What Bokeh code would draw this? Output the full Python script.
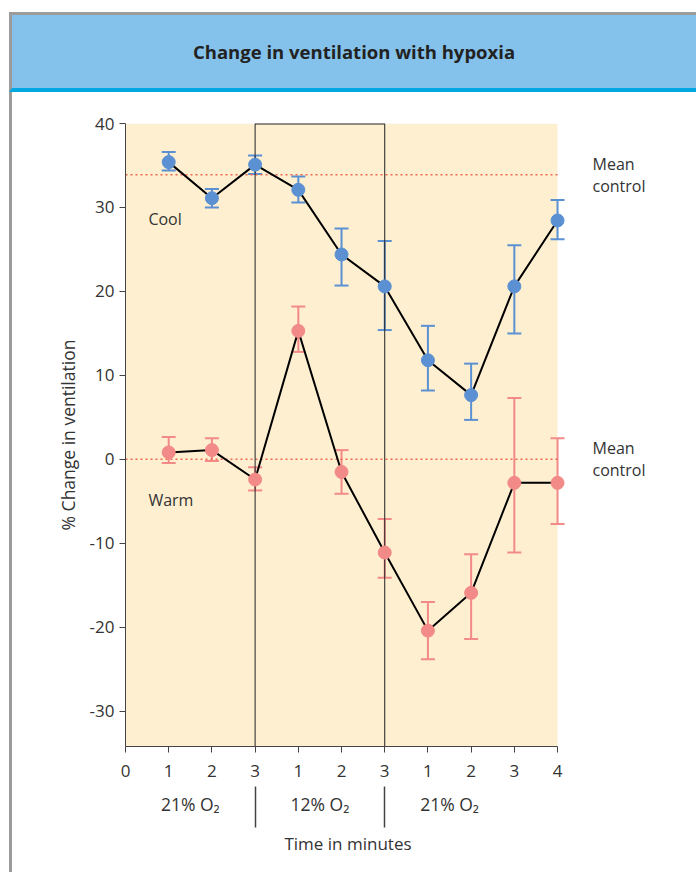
from bokeh.plotting import figure
from bokeh.models import (Div, ColumnDataSource, Whisker, TeeHead, FixedTicker,
                          LinearAxis, Label, Range1d)
from bokeh.layouts import column
from bokeh.embed import file_html
from bokeh.resources import INLINE

# ---- data ----
positions = [1, 2, 3, 4, 5, 6, 7, 8, 9, 10]
x_ticks = [0, 1, 2, 3, 4, 5, 6, 7, 8, 9, 10]
x_tick_labels = ["0", "1", "2", "3", "1", "2", "3", "1", "2", "3", "4"]
y_ticks = [-30, -20, -10, 0, 10, 20, 30, 40]
y_tick_labels = ["-30", "-20", "-10", "0", "10", "20", "30", "40"]

cool_mean = [35.4, 31.1, 35.1, 32.1, 24.4, 20.6, 11.8, 7.65, 20.6, 28.45]
cool_upper = [36.6, 32.2, 36.2, 33.7, 27.5, 26.0, 15.9, 11.4, 25.5, 30.9]
cool_lower = [34.4, 30.0, 34.0, 30.6, 20.7, 15.4, 8.2, 4.7, 15.0, 26.2]

warm_mean = [0.83, 1.1, -2.4, 15.3, -1.5, -11.1, -20.4, -15.9, -2.8, -2.8]
warm_upper = [2.65, 2.5, -0.95, 18.2, 1.1, -7.1, -17.0, -11.3, 7.3, 2.5]
warm_lower = [-0.44, -0.2, -3.7, 12.8, -4.1, -14.1, -23.8, -21.4, -11.1, -7.7]

cool_control = 33.9
warm_control = 0.0
control_label = "Mean\ncontrol"

phase_centers = [1.5, 4.5, 7.5]
phase_labels = ["21% O₂", "12% O₂", "21% O₂"]
phase_bounds = [3, 6]

FONT = "Open Sans"
TXT = "#333333"
BLUE = "#5B91D2"
PINK = "#F28B87"
RED = "#F0674F"
GRAY = "#9B9B9B"
SHADE = "#FEEFD1"

y_min, y_max = -34.2, 40
x_min, x_max = x_ticks[0], x_ticks[-1]
x_view_end = 10.3   # a little room so the last markers are not cut

p = figure(width=680, height=780, output_backend="svg", toolbar_location=None,
           x_range=Range1d(x_min, x_view_end), y_range=Range1d(y_min, y_max),
           min_border_left=113, min_border_right=122, min_border_top=31,
           min_border_bottom=126, x_axis_type=None, margin=(0, 0, 0, 9))
p.background_fill_color = "white"
p.border_fill_color = "white"
p.outline_line_color = None
p.grid.visible = False
p.styles = {"border-left": "3px solid " + GRAY}

# shaded plotting area
p.quad(left=[x_min], right=[x_max], bottom=[y_min], top=[y_max],
       fill_color=SHADE, line_color=None, level="image")

# y axis
ya = p.yaxis[0]
ya.ticker = FixedTicker(ticks=y_ticks)
ya.major_label_overrides = {t: l for t, l in zip(y_ticks, y_tick_labels)}
ya.axis_label = "% Change in ventilation"
ya.axis_label_text_font = FONT
ya.axis_label_text_font_style = "normal"
ya.axis_label_text_font_size = "17.5px"
ya.axis_label_text_color = TXT
ya.major_label_text_font = FONT
ya.major_label_text_font_size = "17px"
ya.major_label_text_color = TXT
ya.major_tick_out = 6
ya.major_tick_in = 0
ya.minor_tick_out = 0
ya.minor_tick_in = 0
ya.axis_line_color = "#444444"
ya.major_tick_line_color = "#444444"
ya.major_label_standoff = 5
ya.axis_label_standoff = 7

# right axis carrying the "Mean control" notes
yr = LinearAxis(ticker=FixedTicker(ticks=[cool_control, warm_control]),
                major_label_overrides={cool_control: control_label,
                                       warm_control: control_label})
yr.axis_line_color = None
yr.major_tick_line_color = None
yr.minor_tick_line_color = None
yr.major_tick_out = 0
yr.major_tick_in = 0
yr.major_label_text_font = FONT
yr.major_label_text_font_size = "16px"
yr.major_label_text_color = TXT
yr.major_label_text_line_height = 1.0
yr.major_label_standoff = 22
p.add_layout(yr, "right")

# x axis (minutes)
xa = LinearAxis(ticker=FixedTicker(ticks=x_ticks), bounds=(x_min, x_max),
                major_label_overrides={t: l for t, l in zip(x_ticks, x_tick_labels)})
xa.major_tick_out = 6
xa.major_tick_in = 0
xa.axis_line_color = "#444444"
xa.major_tick_line_color = "#444444"
xa.major_label_text_font = FONT
xa.major_label_text_font_size = "17px"
xa.major_label_text_color = TXT
xa.major_label_standoff = 12
p.add_layout(xa, "below")

# x axis (phases)
xb = LinearAxis(ticker=FixedTicker(ticks=phase_centers, minor_ticks=phase_bounds),
                bounds=(x_min, x_max),
                major_label_overrides={t: l for t, l in zip(phase_centers, phase_labels)})
xb.axis_line_color = None
xb.major_tick_line_color = None
xb.major_tick_out = 0
xb.major_tick_in = 0
xb.minor_tick_line_color = "#444444"
xb.minor_tick_line_width = 1.5
xb.minor_tick_in = -7
xb.minor_tick_out = 48
xb.major_label_text_font = FONT
xb.major_label_text_font_size = "17.5px"
xb.major_label_text_color = TXT
xb.major_label_standoff = -36
xb.axis_label = "Time in minutes"
xb.axis_label_text_font = FONT
xb.axis_label_text_font_style = "normal"
xb.axis_label_text_font_size = "17px"
xb.axis_label_text_color = TXT
xb.axis_label_standoff = 13
p.add_layout(xb, "below")

# mean control lines
p.segment(x0=[x_min, x_min], x1=[x_max, x_max], y0=[cool_control, warm_control],
          y1=[cool_control, warm_control], line_color=RED, line_width=1.5,
          line_dash="2 3")

# error bars
sources = []
for mean, up, lo, col in [(cool_mean, cool_upper, cool_lower, BLUE),
                          (warm_mean, warm_upper, warm_lower, PINK)]:
    src = ColumnDataSource(dict(x=positions, y=mean, upper=up, lower=lo))
    sources.append((src, col))
    w = Whisker(source=src, base="x", upper="upper", lower="lower",
                line_color=col, line_width=2, level="underlay",
                upper_head=TeeHead(size=14, line_color=col, line_width=2),
                lower_head=TeeHead(size=14, line_color=col, line_width=2))
    p.add_layout(w)

# hypoxia box
p.segment(x0=phase_bounds, x1=phase_bounds, y0=[y_min] * 2, y1=[y_max] * 2,
          line_color="#222222", line_width=1)
p.segment(x0=[phase_bounds[0]], x1=[phase_bounds[1]], y0=[y_max], y1=[y_max],
          line_color="#222222", line_width=2)

for src, col in sources:
    p.line("x", "y", source=src, line_color="black", line_width=2)
    p.scatter("x", "y", source=src, size=13, fill_color=col, line_color=col)

# series labels
p.add_layout(Label(x=0.53, y=28.6, text="Cool", text_font=FONT, text_font_size="16px",
                   text_color=TXT, text_baseline="middle"))
p.add_layout(Label(x=0.53, y=-4.9, text="Warm", text_font=FONT, text_font_size="16px",
                   text_color=TXT, text_baseline="middle"))

title = Div(text=("<div style='box-sizing:border-box;width:687px;height:80px;line-height:73px;"
                  "background:#85C2EB;border-top:3px solid " + GRAY + ";"
                  "border-left:3px solid " + GRAY + ";border-bottom:4px solid #00A8E1;"
                  "text-align:center;font-family:\"Open Sans\";font-weight:bold;"
                  "font-size:18.5px;color:#222222;'>Change in ventilation with hypoxia</div>"),
            width=687, height=80, margin=(12, 0, 0, 9))

layout = column(title, p, spacing=0)
open("out.html", "w").write(file_html(layout, INLINE))
